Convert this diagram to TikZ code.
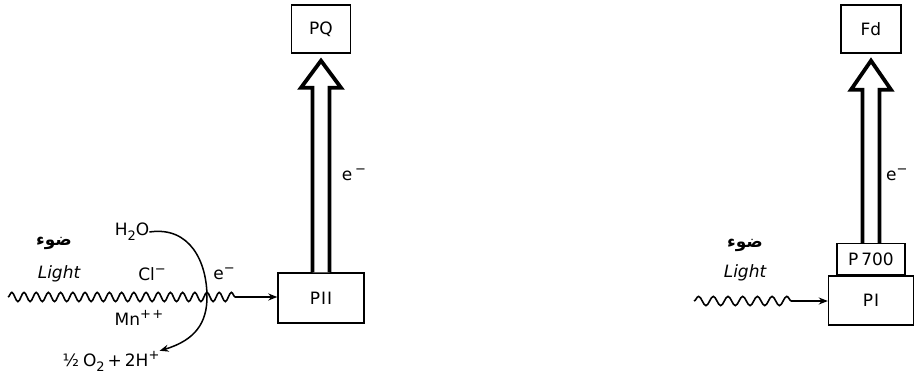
\documentclass[tikz,border=0pt]{standalone}
\usepackage{fontspec}
\setmainfont{DejaVu Sans}
\newfontfamily\arabicfont[Script=Arabic]{DejaVu Sans}
\TeXXeTstate=1
\usetikzlibrary{arrows.meta,decorations.pathmorphing,calc}
\newcommand\upsc[1]{\raisebox{0.42em}{\fontsize{13}{13}\selectfont #1}}
\newcommand\dnsc[1]{\raisebox{-0.28em}{\fontsize{13}{13}\selectfont #1}}
\begin{document}
\begin{tikzpicture}[x=1pt,y=-1pt,
  every node/.style={font=\fontsize{17}{19}\selectfont, inner sep=0pt},
  box/.style={draw, line width=1.4pt, minimum width=#1},
  hollow/.style={draw, fill=white, line width=3.8pt, line join=miter},
  wave/.style={decorate, decoration={snake, amplitude=4.6pt, segment length=#1}, line width=1.6pt},
  lead/.style={-{Stealth[length=9pt,width=7pt]}, line width=1.5pt},
  ar/.style={font=\fontsize{17}{19}\selectfont\arabicfont\bfseries}]
\useasboundingbox (0,0) rectangle (916,377);

% left system
\node[box=59pt, minimum height=48pt] (PQ) at (321,29) {PQ};
\node[box=86pt, minimum height=50pt] (PII) at (321,298) {P\kern1pt I\kern1pt I};
\draw[hollow] ($(PII.north)+(-8.5,0)$) -- ($(PQ.south)+(-8.5,34)$) -- ($(PQ.south)+(-20,34)$)
  -- ($(PQ.south)+(0,7)$) -- ($(PQ.south)+(20,34)$) -- ($(PQ.south)+(8.5,34)$) -- ($(PII.north)+(8.5,0)$);
\node (e1) at (354,175) {e\,\upsc{−}};

\coordinate (w1s) at (8,297);
\coordinate (w1e) at (240,297);
\draw[wave=12.2pt] (w1s) -- (w1e);
\draw[lead] (w1e) -- (PII.west |- w1e);

\node[ar] (ar1) at (54,243) {\beginR ضوء\endR};
\node (light1) at (59,274) {\itshape Light};
\node (cl) at (152,274) {Cl\upsc{−}};
\node (e2) at (224,274) {e\upsc{−}};
\node (mn) at (139,318) {Mn\upsc{+\kern1.5pt+}};
\node (h2o) at (132,232) {H\dnsc{2}O};
\node (o2) at (111,361) {½\kern4pt O\dnsc{2}\kern3pt+\kern3pt2H\upsc{+}};
\draw[lead] (h2o.east) .. controls (190,226) and (207,262) .. (207,297)
  .. controls (207,322) and (196,340) .. (o2.north east);

% right system
\node[box=60pt, minimum height=48pt] (Fd) at (871,29) {Fd};
\node[box=85pt, minimum height=49pt] (PI) at (871,300.5) {P\kern1pt I};
\node[box=68pt, minimum height=31pt, anchor=south] (P700) at (PI.north) {P\,700};
\draw[hollow] ($(P700.north)+(-8.5,0)$) -- ($(Fd.south)+(-8.5,36)$) -- ($(Fd.south)+(-20,36)$)
  -- ($(Fd.south)+(0,7)$) -- ($(Fd.south)+(20,36)$) -- ($(Fd.south)+(8.5,36)$) -- ($(P700.north)+(8.5,0)$);
\node[anchor=west] (e3) at (886,175) {e\upsc{−}};

\coordinate (w2s) at (694,301);
\coordinate (w2e) at (797,301);
\draw[wave=14.7pt] (w2s) -- (w2e);
\draw[lead] (w2e) -- (PI.west |- w2e);
\node[ar] (ar2) at (745,245) {\beginR ضوء\endR};
\node (light2) at (745,273) {\itshape Light};
\end{tikzpicture}
\end{document}
